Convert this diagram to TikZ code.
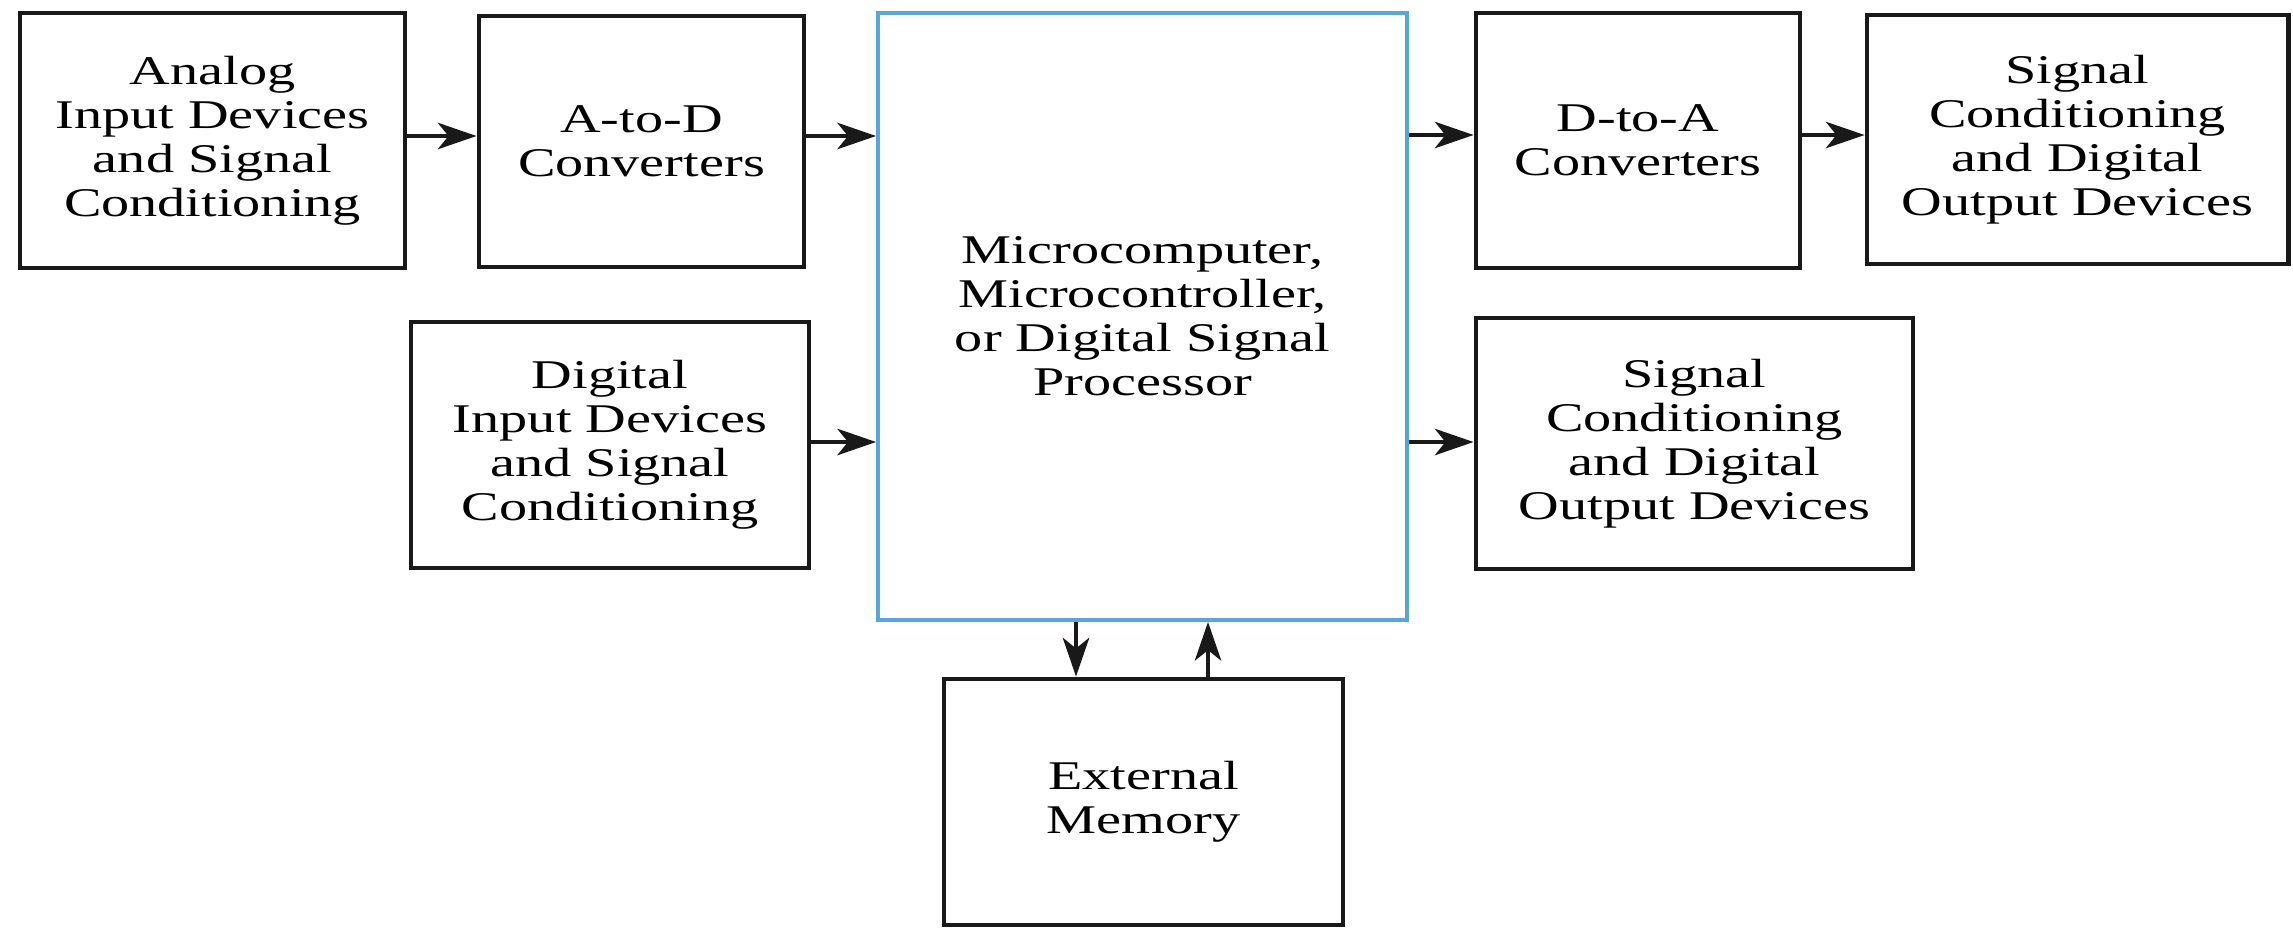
\documentclass[tikz,border=0pt]{standalone}
\usepackage{fontspec}
\setmainfont{Liberation Serif}[FakeStretch=1.38]
\usetikzlibrary{arrows.meta}
\definecolor{procblue}{RGB}{88,166,218}
\tikzset{
  box/.style={draw=black!90, line width=1.4pt, rectangle, align=center, inner sep=0pt,
    font=\fontsize{11.6}{12.5}\selectfont},
  procbox/.style={box, draw=procblue, line width=1.1pt},
  arr/.style={draw=black!90, line width=1.2pt, -{Stealth[length=11pt, width=7.5pt, inset=3pt]}},
}
\begin{document}
\begin{tikzpicture}
\useasboundingbox (0,0) rectangle (22.93,-9.29);
\node[box, minimum width=3.85cm, minimum height=2.55cm] (analog) at (2.125,-1.405)
  {Analog\\Input Devices\\and Signal\\Conditioning};
\node[box, minimum width=3.25cm, minimum height=2.51cm] (atod) at (6.415,-1.415)
  {A-to-D\\Converters};
\node[procbox, minimum width=5.29cm, minimum height=6.07cm] (micro) at (11.425,-3.165)
  {Microcomputer,\\Microcontroller,\\or Digital Signal\\Processor};
\node[box, minimum width=3.24cm, minimum height=2.55cm] (dtoa) at (16.38,-1.405)
  {D-to-A\\Converters};
\node[box, minimum width=4.21cm, minimum height=2.49cm] (sctop) at (20.775,-1.395)
  {Signal\\Conditioning\\and Digital\\Output Devices};
\node[box, minimum width=3.98cm, minimum height=2.46cm] (digital) at (6.10,-4.45)
  {Digital\\Input Devices\\and Signal\\Conditioning};
\node[box, minimum width=4.37cm, minimum height=2.51cm] (scbot) at (16.945,-4.435)
  {Signal\\Conditioning\\and Digital\\Output Devices};
\node[box, minimum width=3.99cm, minimum height=2.46cm] (memory) at (11.435,-8.02)
  {External\\Memory};
\coordinate (r1) at (0,-1.36);
\coordinate (r2) at (0,-1.35);
\coordinate (r3) at (0,-4.42);
\coordinate (m1) at (10.76,0);
\coordinate (m2) at (12.08,0);
\draw[arr] (analog.east |- r1) -- (atod.west |- r1);
\draw[arr] (atod.east |- r1) -- (micro.west |- r1);
\draw[arr] (digital.east |- r3) -- (micro.west |- r3);
\draw[arr] (micro.east |- r2) -- (dtoa.west |- r2);
\draw[arr] (dtoa.east |- r2) -- (sctop.west |- r2);
\draw[arr] (micro.east |- r3) -- (scbot.west |- r3);
\draw[arr] (micro.south -| m1) -- (memory.north -| m1);
\draw[arr] (memory.north -| m2) -- (micro.south -| m2);
\end{tikzpicture}
\end{document}
